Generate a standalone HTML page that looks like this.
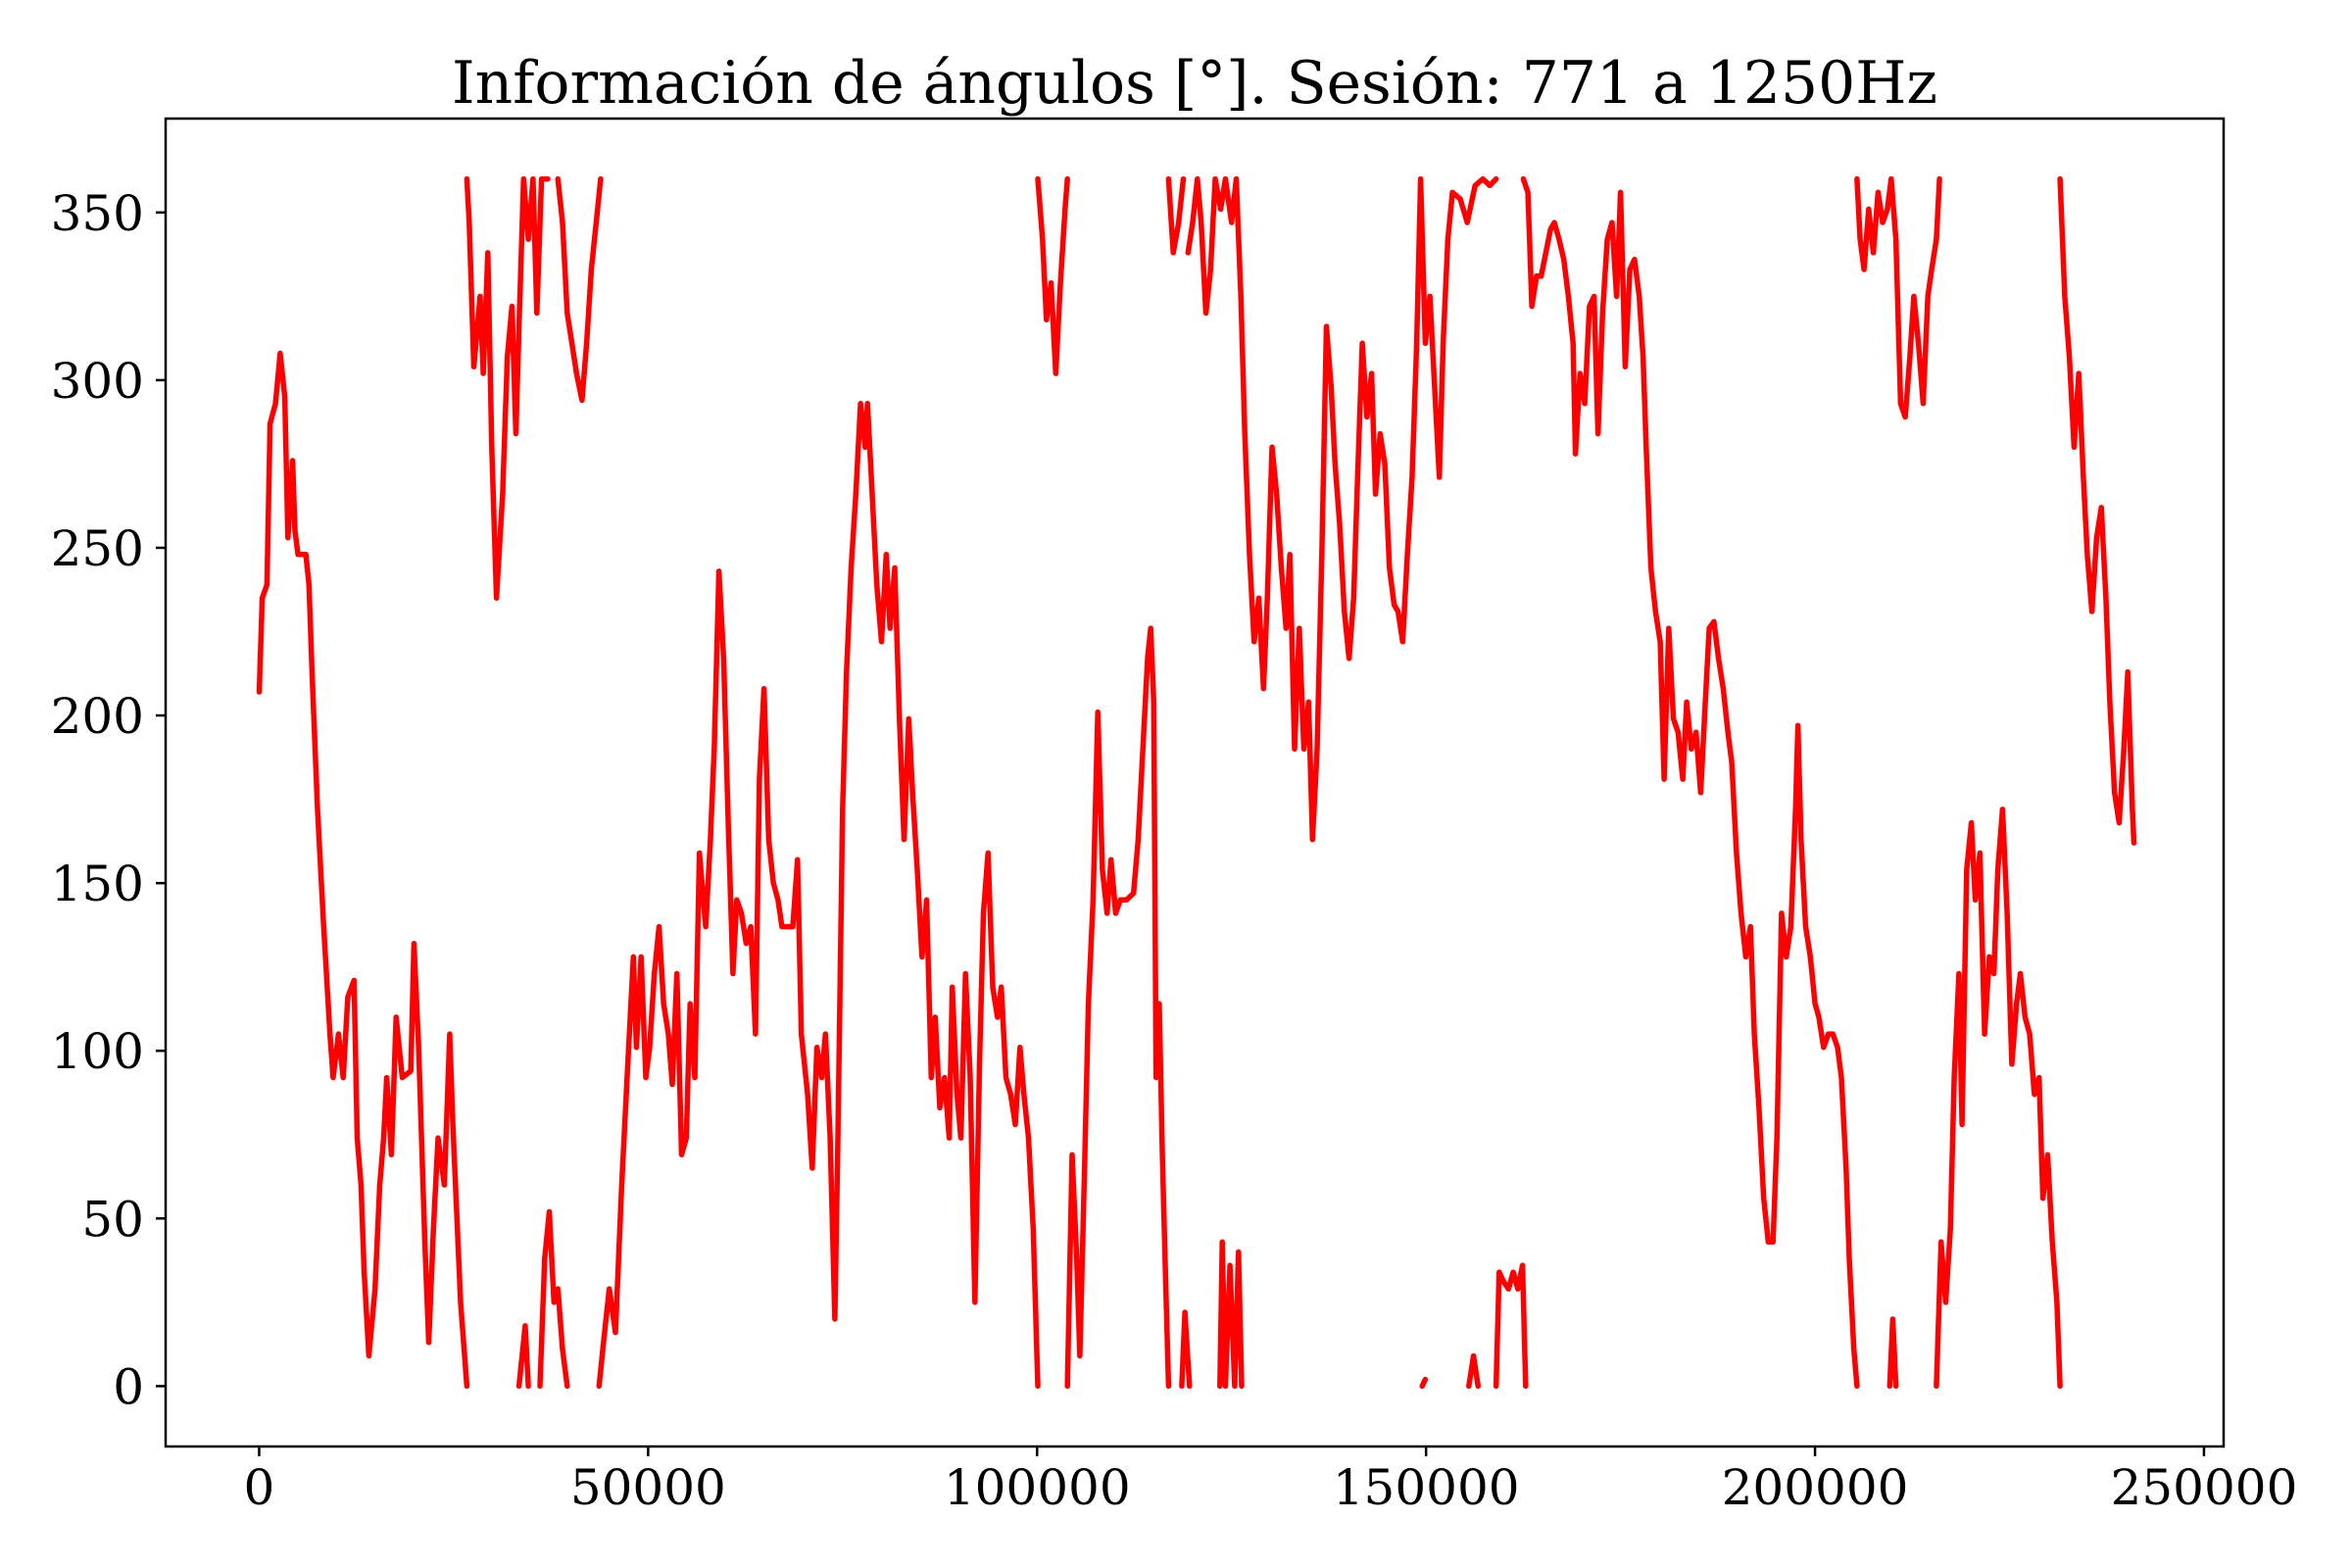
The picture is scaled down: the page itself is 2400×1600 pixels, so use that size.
<!DOCTYPE html>
<html><head><meta charset="utf-8"><style>
html,body{margin:0;padding:0;background:#fff;}
svg{display:block;font-family:"DejaVu Serif","Liberation Serif",serif;}
</style></head><body>
<svg id="chart" width="2400" height="1600" viewBox="0 0 2400 1600" xmlns="http://www.w3.org/2000/svg">
<rect width="2400" height="1600" fill="#fff"/>
<text x="1219" y="105" font-size="60" text-anchor="middle" textLength="1516" lengthAdjust="spacingAndGlyphs">Información de ángulos [°]. Sesión: 771 a 1250Hz</text>
<g id="ticks"></g>
<path id="series" fill="none" stroke="#ff0000" stroke-width="5.5" stroke-linejoin="round" stroke-linecap="round"/>
<rect x="169" y="121" width="2100" height="1355" fill="none" stroke="#000" stroke-width="2.5"/>
</svg>
<script>
const xTicks = [0, 50000, 100000, 150000, 200000, 250000];
const yTicks = [0, 50, 100, 150, 200, 250, 300, 350];
// sample index in thousands; null = break (angle wrap)
const sampleK = [
0,0.4,1.0,1.4,2.1,2.7,3.3,3.7,4.3,4.6,5.0,6.0,6.4,6.8,7.5,8.3,9.1,9.5,10.2,10.8,11.4,12.2,12.6,13.1,13.5,14.1,14.9,15.5,16.0,16.4,17.0,17.6,18.4,19.5,19.9,20.5,21.3,21.8,22.4,23.0,23.8,24.5,24.9,25.9,26.7,null,
26.7,27.0,27.6,28.4,28.8,29.4,29.9,30.5,31.3,31.9,32.5,33.0,33.4,34.0,34.6,35.2,35.7,36.3,37.1,null,
38.4,39.0,39.6,40.2,40.8,41.5,42.1,42.7,43.5,43.9,null,
33.4,34.2,34.6,null,
36.1,36.7,37.3,37.9,38.4,39.0,39.6,null,
43.7,44.4,45.0,45.8,46.6,47.3,48.1,48.5,49.1,49.7,50.2,50.8,51.4,52.0,52.6,53.1,53.7,54.3,54.9,55.4,56.0,56.6,57.4,58.0,58.5,59.1,59.7,60.3,60.9,61.4,62.0,62.6,63.2,63.8,64.3,64.9,65.5,66.1,66.7,67.2,68.0,68.6,69.2,69.7,70.5,71.1,71.7,72.3,72.8,73.4,74.0,74.4,75.0,75.5,76.1,76.7,77.3,77.9,78.2,78.8,79.4,80.0,80.6,81.1,81.7,82.3,82.9,83.5,84.0,84.6,85.2,85.8,86.4,86.9,87.5,88.1,88.7,89.1,89.7,90.2,90.8,91.4,92.0,92.6,93.1,93.7,94.3,94.9,95.4,96.0,96.6,97.2,97.8,98.3,98.9,99.5,100.1,null,
100.1,100.7,101.2,101.8,102.4,103.0,103.6,103.9,null,
103.9,104.5,105.1,105.5,106.1,106.6,107.2,107.8,108.4,109.0,109.5,110.1,110.7,111.5,112.4,113.0,113.6,114.2,114.6,115.0,115.3,115.7,116.1,116.5,116.9,null,
116.9,117.5,118.2,118.8,null,
118.6,119.0,119.6,null,
119.4,120.0,120.6,121.1,121.7,122.3,122.9,123.6,124.2,125.0,125.6,126.2,126.7,127.3,127.9,128.5,129.1,129.6,130.2,130.8,131.4,132.0,132.5,133.1,133.7,134.3,134.9,135.4,136.0,136.6,137.2,137.8,138.3,138.9,139.5,140.1,140.7,141.2,141.8,142.4,143.0,143.5,144.1,144.7,145.3,145.9,146.4,147.0,147.6,148.2,148.8,149.3,149.9,150.5,151.1,151.7,152.2,152.8,153.4,154.4,155.3,156.3,157.3,158.2,159.0,null,
123.5,123.8,124.2,124.8,125.4,125.9,126.3,null,
149.5,149.9,null,
155.5,156.1,156.7,null,
159.0,159.4,160.0,160.6,161.2,161.8,162.4,162.8,null,
162.5,163.1,163.6,164.2,164.8,165.4,166.0,166.5,167.1,167.7,168.3,168.9,169.2,169.8,170.4,171.0,171.6,172.1,172.7,173.3,173.9,174.5,175.0,175.6,176.2,176.8,177.4,177.9,178.3,178.9,179.5,180.1,180.6,181.2,181.8,182.4,183.0,183.5,184.1,184.7,185.3,185.9,186.4,187.0,187.6,188.2,188.8,189.3,189.9,190.5,191.1,191.7,192.2,192.8,193.4,194.0,194.6,195.1,195.7,196.3,196.9,197.5,197.8,198.2,198.8,199.4,200.0,200.5,201.1,201.7,202.3,202.9,203.4,204.0,204.4,205.0,205.4,null,
205.4,205.8,206.3,206.9,207.5,208.1,208.7,209.3,209.8,210.4,211.0,211.6,212.2,212.7,213.3,213.9,214.5,215.0,215.6,216.0,null,
209.6,210.0,210.4,null,
215.6,216.2,216.8,217.4,217.9,218.5,218.9,219.5,220.1,220.6,221.2,221.8,222.4,223.0,223.5,224.1,224.7,225.3,225.9,226.4,227.0,227.6,228.2,228.8,229.3,229.9,230.5,231.1,231.5,null,
231.5,232.1,232.7,233.3,233.9,234.5,235.0,235.6,236.2,236.8,237.4,237.9,238.5,239.1,239.7,240.2,240.8,241.0
];
const angleDeg = [
207,235,239,287,293,308,295,253,276,255,248,248,239,213,172,137,105,92,105,92,116,121,74,60,34,9,29,60,74,92,69,110,92,94,132,101,43,13,47,74,60,105,78,25,0,null,
360,347,304,325,302,338,280,235,266,307,322,284,316,360,342,360,320,360,360,null,
360,347,320,311,302,294,311,333,351,360,null,
0,18,0,null,
0,38,52,25,29,11,0,null,
0,16,29,16,60,92,128,101,128,92,101,123,137,114,105,90,123,69,74,114,92,159,137,163,190,243,217,168,123,145,141,132,137,105,181,208,163,150,145,137,137,137,157,105,87,65,101,92,105,74,20,74,172,213,244,266,293,280,293,266,239,222,248,226,244,199,163,199,177,154,128,145,92,110,83,92,74,119,87,74,123,92,25,96,141,159,119,110,119,92,87,78,101,87,74,47,0,null,
360,342,318,329,302,329,351,360,null,
0,69,38,9,65,114,145,201,154,141,157,141,145,145,147,163,190,217,226,204,92,114,69,34,0,null,
360,338,347,360,null,
0,22,0,null,
338,347,360,347,320,333,360,351,360,347,360,325,284,248,222,235,208,235,280,266,244,226,248,190,226,190,204,163,190,248,316,298,275,257,231,217,235,271,311,289,302,266,284,275,244,233,231,222,248,271,311,360,311,325,298,271,311,342,356,354,347,358,360,358,360,null,
0,43,0,36,0,40,0,null,
0,2,null,
0,9,0,null,
0,34,31,29,34,29,36,0,null,
360,356,322,331,331,338,345,347,342,336,325,311,278,302,293,322,325,284,320,342,347,325,356,304,333,336,325,307,280,244,231,222,181,226,199,195,181,204,190,195,177,204,226,228,217,208,195,186,159,141,128,137,105,83,56,43,43,74,141,128,137,172,197,163,137,128,114,110,101,105,105,101,92,65,38,11,0,null,
360,342,333,351,338,356,347,351,360,342,293,289,307,325,311,293,325,333,342,360,null,
0,20,0,null,
0,43,25,47,92,123,78,154,168,145,159,105,128,123,154,172,141,96,114,123,110,105,87,92,56,69,43,25,0,null,
360,325,307,280,302,271,248,231,253,262,235,204,177,168,190,213,172,162
];
const X0=169,X1=2269,Y0=1476,Y1=121;
const xMin=-12025,xMax=252525,yMin=-18,yMax=378;
function sx(v){return X0+(v-xMin)/(xMax-xMin)*(X1-X0);}
function sy(v){return Y0-(v-yMin)/(yMax-yMin)*(Y0-Y1);}
const NS="http://www.w3.org/2000/svg";
const tg=document.getElementById('ticks');
xTicks.forEach(t=>{
  const l=document.createElementNS(NS,'line');
  l.setAttribute('x1',sx(t));l.setAttribute('x2',sx(t));l.setAttribute('y1',Y0);l.setAttribute('y2',Y0+10);
  l.setAttribute('stroke','#000');l.setAttribute('stroke-width','2.5');
  
  
  tg.appendChild(l);
  const tx=document.createElementNS(NS,'text');
  tx.setAttribute('x',sx(t));tx.setAttribute('y',1535);tx.setAttribute('font-size','50');tx.setAttribute('text-anchor','middle');
  tx.textContent=String(t);
  
  
  tg.appendChild(tx);
});
yTicks.forEach(t=>{
  const l=document.createElementNS(NS,'line');
  l.setAttribute('x1',X0-10);l.setAttribute('x2',X0);l.setAttribute('y1',sy(t));l.setAttribute('y2',sy(t));
  l.setAttribute('stroke','#000');l.setAttribute('stroke-width','2.5');
  
  
  tg.appendChild(l);
  const tx=document.createElementNS(NS,'text');
  tx.setAttribute('x',147);tx.setAttribute('y',sy(t)+18);tx.setAttribute('font-size','50');tx.setAttribute('text-anchor','end');
  tx.textContent=String(t);
  
  
  tg.appendChild(tx);
});
let d='',pen=false;
for(let i=0;i<sampleK.length;i++){
  if(sampleK[i]===null||angleDeg[i]===null){pen=false;continue;}
  d+=(pen?'L':'M')+sx(sampleK[i]*1000).toFixed(1)+','+sy(angleDeg[i]).toFixed(1);
  pen=true;
}
document.getElementById('series').setAttribute('d',d);
</script>
</body></html>
